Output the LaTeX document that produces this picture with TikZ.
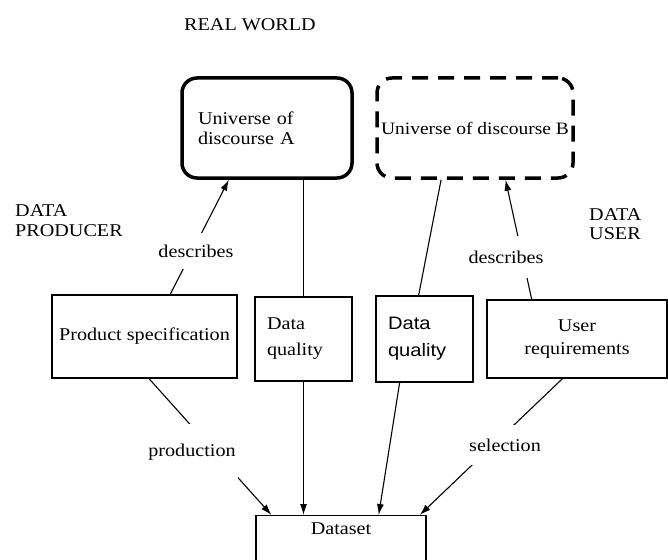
\documentclass[tikz,border=0pt]{standalone}
\usepackage{fontspec}
\setmainfont{Liberation Serif}[FakeStretch=1.12]
\newfontfamily\arialf{Liberation Sans}[FakeStretch=1.12]
\usetikzlibrary{arrows.meta,calc}
\begin{document}
\begin{tikzpicture}[x=1pt,y=-1pt,
  font=\fontsize{18}{20}\selectfont,
  box/.style={draw, line width=1.2pt, inner sep=0pt},
  conn/.style={line width=1.1pt},
  arr/.style={conn, -{Latex[length=11pt,width=7pt]}},
  lab/.style={fill=white, inner xsep=2pt},
  plain/.style={inner sep=0pt, align=left}]
\useasboundingbox (0,0) rectangle (668,559);
\fill[white] (0,0) rectangle (668,559);

% titles
\node[plain] (rw) at (250,25) {REAL WORLD};
\node[plain, anchor=north west] (prod) at (15,204) {DATA\\PRODUCER};
\node[plain, anchor=north west, font=\fontsize{18}{19}\selectfont] (user) at (589,208) {DATA\\USER};

% real world boxes
\node[box, line width=3.5pt, rounded corners=15pt, minimum width=170pt, minimum height=100pt,
      text width=138pt, inner xsep=16pt, align=left] (A) at (267,128) {Universe of\\discourse A};
\node[box, line width=3.5pt, dash pattern=on 16pt off 10pt, rounded corners=15pt,
      minimum width=196pt, minimum height=100pt, font=\fontsize{17.4}{20}\selectfont] (B) at (475,128) {Universe of discourse B};

% middle row
\node[box, minimum width=185pt, minimum height=83pt] (PS) at (144.5,336.5) {Product specification};
\node[box, minimum width=97pt, minimum height=84pt, text width=73pt, inner xsep=12pt,
      align=left, font=\fontsize{18}{26}\selectfont] (DQ1) at (303.5,339) {Data\\quality};
\node[box, minimum width=97pt, minimum height=86pt, text width=73pt, inner xsep=11pt,
      align=left, font=\arialf\fontsize{18}{27}\selectfont] (DQ2) at (424.5,339) {Data\\quality};
\node[box, minimum width=180pt, minimum height=78pt, align=center,
      font=\fontsize{18}{23}\selectfont] (UR) at (577,339) {User\\requirements};

% dataset
\node[box, anchor=north, minimum width=170pt, inner ysep=7pt, text depth=45pt] (DS) at (341,515) {Dataset};

% connectors
\draw[arr] ($(PS.north west)!0.638!(PS.north east)$) -- ($(A.south west)!0.28!(A.south east)$);
\draw[conn] (DQ1.north) -- (DQ1.north |- A.south);
\draw[conn] ($(DQ2.north west)!0.44!(DQ2.north east)$) -- ($(B.south west)!0.33!(B.south east)$);
\draw[arr] ($(UR.north west)!0.25!(UR.north east)$) -- ($(B.south west)!0.653!(B.south east)$);

\draw[arr] ($(PS.south west)!0.524!(PS.south east)$) -- ($(DS.north west)!0.094!(DS.north east)$);
\draw[arr] (DQ1.south) -- (DQ1.south |- DS.north);
\draw[arr] ($(DQ2.south west)!0.247!(DQ2.south east)$) -- ($(DS.north west)!0.72!(DS.north east)$);
\draw[arr] ($(UR.south west)!0.42!(UR.south east)$) -- ($(DS.north west)!0.96!(DS.north east)$);

% connector labels
\node[lab, inner ysep=12pt] (d1) at (196,251) {describes};
\node[lab, inner ysep=15pt] (d2) at (506,257) {describes};
\node[lab, inner ysep=20pt] (pr) at (192,452) {production};
\node[lab, inner ysep=14pt] (se) at (505,445) {selection};
\end{tikzpicture}
\end{document}
